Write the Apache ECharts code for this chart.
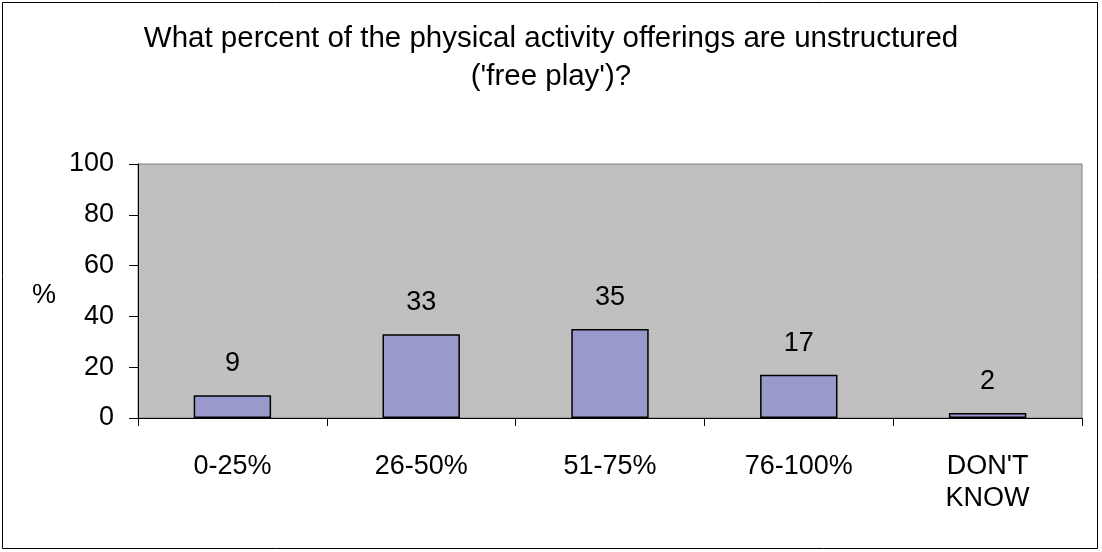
<!DOCTYPE html>
<html>
<head>
<meta charset="utf-8">
<script src="https://cdn.jsdelivr.net/npm/echarts@6/dist/echarts.min.js"></script>
<style>
  html, body { margin: 0; padding: 0; background: #fff; }
  #chart { width: 1102px; height: 552px; }
</style>
</head>
<body>
<div id="chart"></div>
<script>
// chart data
const categories = ['0-25%', '26-50%', '51-75%', '76-100%', "DON'T\nKNOW"]
const values = [9, 33, 35, 17, 2]
const yTicks = [0, 20, 40, 60, 80, 100]

const font = 'Liberation Sans, Arial, sans-serif'
const chart = echarts.init(document.getElementById('chart'))

chart.setOption({
  animation: false,
  backgroundColor: '#fff',
  title: {
    text: "What percent of the physical activity offerings are unstructured\n('free play')?",
    left: 'center',
    top: 15,
    textStyle: {
      fontFamily: font,
      fontSize: 29.5,
      fontWeight: 'normal',
      color: '#000',
      lineHeight: 38
    }
  },
  graphic: [
    {
      type: 'rect',
      shape: { x: 2.5, y: 2.5, width: 1095, height: 546 },
      style: { fill: 'none', stroke: '#000', lineWidth: 1 },
      silent: true
    },
    {
      type: 'text',
      left: 32,
      top: 282,
      style: { text: '%', font: '27px ' + font, fill: '#000' }
    }
  ],
  grid: {
    left: 138,
    right: 20,
    top: 164,
    bottom: 134,
    show: true,
    backgroundColor: '#C0C0C0',
    borderColor: '#808080',
    borderWidth: 1
  },
  xAxis: {
    type: 'category',
    data: categories,
    axisLine: { lineStyle: { color: '#000', width: 1 } },
    axisTick: { show: true, length: 8, lineStyle: { color: '#000' } },
    axisLabel: {
      color: '#000',
      fontFamily: font,
      fontSize: 27,
      margin: 33,
      lineHeight: 32
    }
  },
  yAxis: {
    type: 'value',
    min: 0,
    max: 100,
    interval: yTicks[1] - yTicks[0],
    splitLine: { show: false },
    axisLine: { show: true, lineStyle: { color: '#000', width: 1 } },
    axisTick: { show: true, length: 9, lineStyle: { color: '#000' } },
    axisLabel: {
      color: '#000',
      fontFamily: font,
      fontSize: 27,
      margin: 24
    }
  },
  series: [
    {
      type: 'bar',
      data: values,
      barWidth: '41%',
      itemStyle: {
        color: '#9999CC',
        borderColor: '#000',
        borderWidth: 1.5
      },
      label: {
        show: true,
        position: 'top',
        distance: 18,
        color: '#000',
        fontFamily: font,
        fontSize: 27
      }
    }
  ]
})
</script>
</body>
</html>
